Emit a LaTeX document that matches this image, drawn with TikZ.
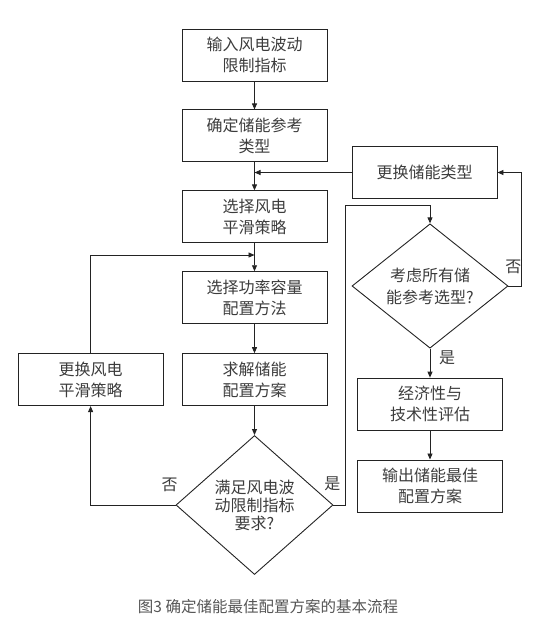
\documentclass[tikz,border=0pt]{standalone}
\usepackage{fontspec}
\setmainfont{Noto Sans CJK SC}
\usepackage{tikz}
\usetikzlibrary{shapes.geometric, arrows.meta, positioning, calc}
\usepackage{xcolor}
\definecolor{lineGray}{RGB}{35, 35, 35}
\definecolor{textGray}{RGB}{60, 60, 60}
\definecolor{captionGray}{RGB}{85, 85, 85}

\begin{document}
\begin{tikzpicture}[
    node distance=28pt and 18pt,
    every node/.style={font=\fontsize{16}{21}\selectfont, text=textGray},
    fbox/.style={rectangle, draw=lineGray, minimum width=145pt, minimum height=52pt, text centered, align=center, line width=0.9pt, inner sep=2pt},
    cond/.style={diamond, draw=lineGray, align=center, line width=0.9pt, inner sep=0pt},
    arrow/.style={-{Triangle[length=6pt, width=5pt]}, line width=0.9pt, lineGray},
    branch/.style={font=\fontsize{16}{18}\selectfont}
]
\useasboundingbox (0,0) rectangle (536pt,-625pt);

% Main column
\node[fbox] (input) at (254.5pt,-55pt) {输入风电波动\\限制指标};
\node[fbox, below=28pt of input] (type) {确定储能参考\\类型};
\node[fbox, below=28pt of type] (smooth) {选择风电\\平滑策略};
\node[fbox, below=28pt of smooth] (method) {选择功率容量\\配置方法};
\node[fbox, below=29pt of method] (solve) {求解储能\\配置方案};
\node[cond, below=29pt of solve, minimum width=157pt, minimum height=139pt, font=\fontsize{16}{18}\selectfont] (meet) {满足风电波\\动限制指标\\要求?};

% Left: change strategy
\node[fbox, left=18pt of solve] (chSmooth) {更换风电\\平滑策略};

% Right column
\node[fbox] (chType) at (424.5pt,-172.5pt) {更换储能类型};
\node[cond, minimum width=156pt, minimum height=93pt, font=\fontsize{16}{22}\selectfont] (allSel) at (430pt,-286pt) {考虑所有储\\能参考选型?};
\node[fbox, below=29pt of allSel] (eval) {经济性与\\技术性评估};
\node[fbox, below=29pt of eval] (output) {输出储能最佳\\配置方案};

% Branch labels
\node[branch] (meetNo) at ($(meet.west)+(-6pt,20pt)$) {否};
\node[branch] (meetYes) at ($(meet.east)+(-1pt,21pt)$) {是};
\node[branch] (allNo) at ($(allSel.east)+(5pt,19pt)$) {否};
\node[branch] (allYes) at ($(allSel.south)+(17pt,-9.5pt)$) {是};

% Helper points
\coordinate (mergeType) at (type.south |- chType.west);
\coordinate (mergeSmooth) at ($(smooth.south)!0.42!(method.north)$);
\coordinate (yesTop) at ($(allSel.north)+(0,18pt)$);

% Arrows
\draw[arrow] (input) -- (type);
\draw[arrow] (type) -- (smooth);
\draw[arrow] (smooth) -- (method);
\draw[arrow] (method) -- (solve);
\draw[arrow] (solve) -- (meet);

% Not satisfied: change strategy
\draw[arrow] (meet.west) -| (chSmooth.south);
\draw[arrow] (chSmooth.north) |- (mergeSmooth);

% Satisfied: check all types
\draw[arrow] (meet.east) -- ++(12pt,0) |- (yesTop) -- (allSel.north);
\draw[arrow] (allSel.east) -- ++(13pt,0) |- (chType.east);
\draw[arrow] (chType.west) -- (mergeType);
\draw[arrow] (allSel) -- (eval);
\draw[arrow] (eval) -- (output);

% Caption
\node[font=\fontsize{15.5}{18}\selectfont, text=captionGray] (caption) at (268pt,-606.5pt) {图3 确定储能最佳配置方案的基本流程};

\end{tikzpicture}
\end{document}
